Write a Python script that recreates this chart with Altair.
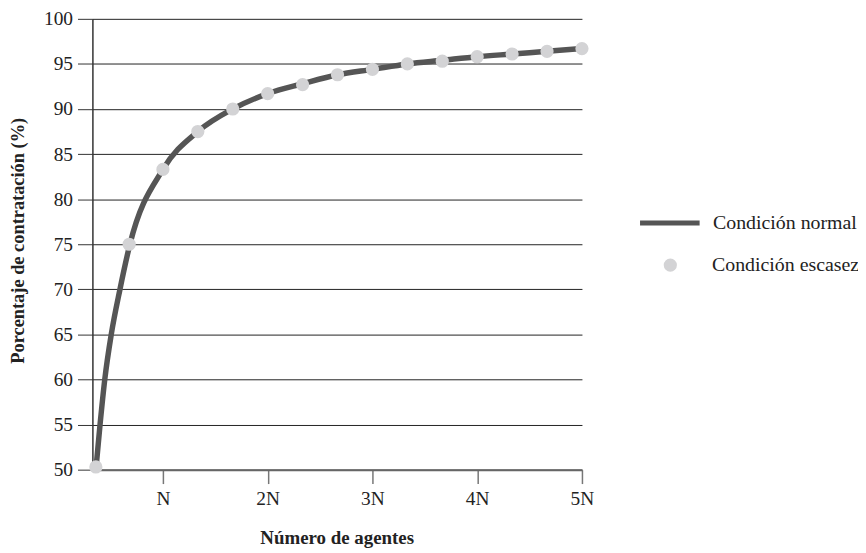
import altair as alt
import pandas as pd

# Number of agents, in units of N
agentes_linea = [0.36, 0.40, 0.445, 0.507, 0.59, 0.685, 1.0, 4/3, 5/3, 2.0, 7/3, 8/3,
                 3.0, 10/3, 11/3, 4.0, 13/3, 14/3, 5.0]
# Condición normal (line) – hiring percentage
normal_pct = [50.0, 55.0, 60.0, 65.0, 70.0, 75.0, 83.3, 87.5, 90.0, 91.7, 92.8, 93.8,
              94.4, 95.0, 95.4, 95.8, 96.1, 96.4, 96.7]

agentes_puntos = [0.36, 0.678, 1.0, 4/3, 5/3, 2.0, 7/3, 8/3, 3.0, 10/3, 11/3, 4.0, 13/3, 14/3, 5.0]
# Condición escasez (points)
escasez_pct = [50.3, 75.0, 83.3, 87.5, 90.0, 91.7, 92.7, 93.8, 94.4, 95.0, 95.3, 95.8, 96.1, 96.4, 96.7]

x_ticks = [1, 2, 3, 4, 5]
y_ticks = [50, 55, 60, 65, 70, 75, 80, 85, 90, 95, 100]

line_df = pd.DataFrame({"agentes": agentes_linea, "pct": normal_pct,
                        "linea": ["Condición normal"] * len(agentes_linea)})
pts_df = pd.DataFrame({"agentes": agentes_puntos, "pct": escasez_pct,
                       "puntos": ["Condición escasez"] * len(agentes_puntos)})

FONT = "Liberation Serif"

x_enc = alt.X("agentes:Q",
              scale=alt.Scale(domain=[0.327, 5], nice=False, zero=False),
              axis=alt.Axis(values=x_ticks, grid=False, labelFlush=False,
                            labelExpr="datum.value == 1 ? 'N' : datum.value + 'N'",
                            title="Número de agentes", titleFontSize=19, titleFontWeight="bold",
                            titleBaseline="alphabetic", titleY=74, titleX=246,
                            tickSize=14, tickColor="#777777", tickWidth=1.5,
                            domainColor="#666666", domainWidth=2,
                            labelFontSize=19.5, labelPadding=6, labelColor="#222222"))
y_enc = alt.Y("pct:Q",
              scale=alt.Scale(domain=[50, 100], nice=False, zero=False),
              axis=alt.Axis(values=y_ticks, grid=True, gridColor="#222222", gridWidth=1,
                            title="Porcentaje de contratación (%)", titleFontSize=18.5,
                            titleFontWeight="bold", titleX=-65, titleY=223,
                            titleBaseline="bottom", titleAlign="center",
                            tickSize=15, tickColor="#333333", tickWidth=1,
                            domainColor="#333333", domainWidth=1.5,
                            labelFontSize=19.5, labelPadding=5, labelColor="#222222"))

line = alt.Chart(line_df).mark_line(strokeWidth=5.5, interpolate="monotone").encode(
    x=x_enc, y=y_enc,
    stroke=alt.Stroke("linea:N",
                      scale=alt.Scale(domain=["Condición normal"], range=["#555555"]),
                      legend=alt.Legend(title=None, orient="none", legendX=549, legendY=173,
                                        symbolType="stroke", symbolSize=3600,
                                        symbolStrokeWidth=5, labelOffset=11,
                                        labelFontSize=20, labelFont=FONT, labelColor="#222222",
                                        padding=0))
)

points = alt.Chart(pts_df).mark_point(filled=True, size=177, opacity=1).encode(
    x="agentes:Q", y="pct:Q",
    fill=alt.Fill("puntos:N",
                  scale=alt.Scale(domain=["Condición escasez"], range=["#d3d3d5"]),
                  legend=alt.Legend(title=None, orient="none", legendX=572, legendY=238,
                                    symbolType="circle", symbolSize=177,
                                    symbolStrokeWidth=0, symbolOpacity=1, labelOffset=32,
                                    labelFontSize=20, labelFont=FONT, labelColor="#222222",
                                    padding=0))
)

chart = alt.layer(line, points).properties(
    width=493, height=454,
    autosize=alt.AutoSizeParams(type="none"),
    padding={"left": 85, "top": 9, "right": 278, "bottom": 80},
).configure_view(stroke=None).configure_axis(
    labelFont=FONT, titleFont=FONT, titleColor="#222222"
).configure_legend(labelFont=FONT)

chart.save("out.html", embed_options={"renderer": "svg", "actions": False})
